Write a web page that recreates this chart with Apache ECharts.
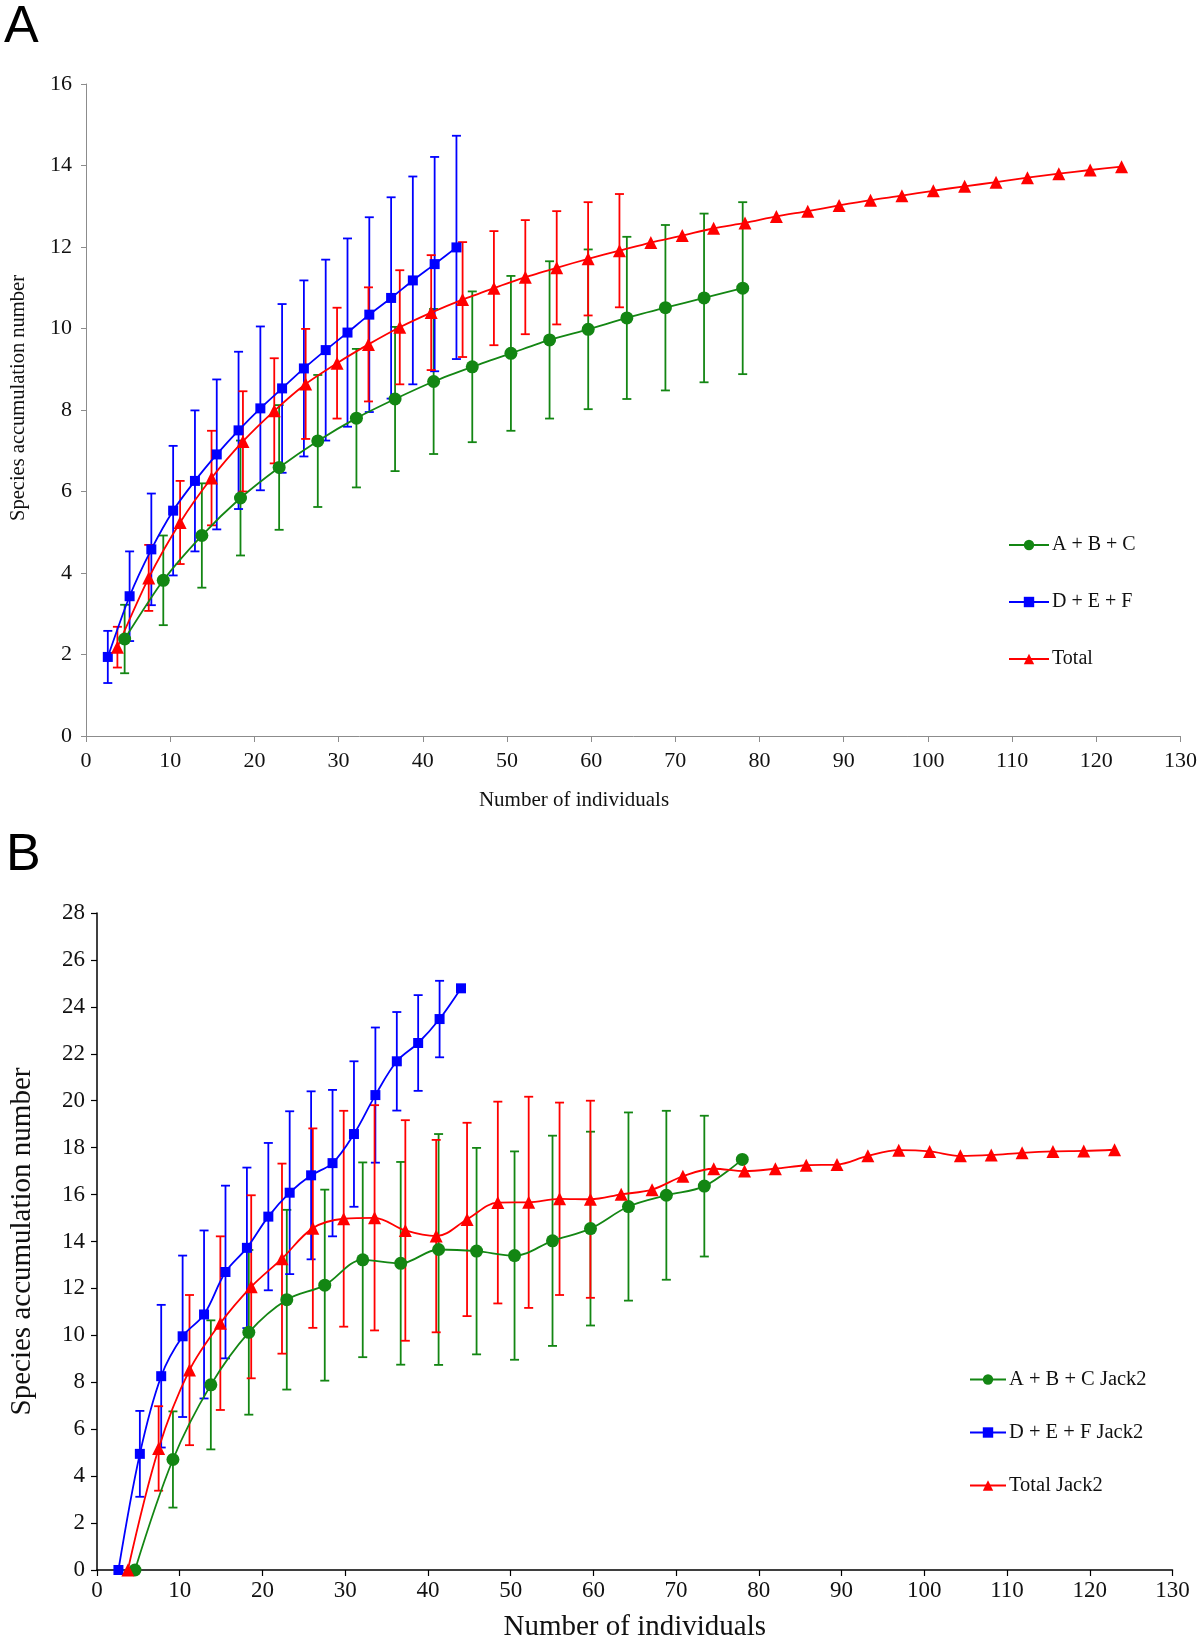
<!DOCTYPE html>
<html>
<head>
<meta charset="utf-8">
<script src="https://cdn.jsdelivr.net/npm/echarts@6/dist/echarts.min.js"></script>
<style>
html,body{margin:0;padding:0;background:#fff;}
#chart{width:1200px;height:1645px;}
</style>
</head>
<body>
<div id="chart"></div>
<script>
// ---------- data ----------
// sample sizes (number of individuals) for each rarefaction step
const xABC = [4.59, 9.18, 13.76, 18.35, 22.94, 27.53, 32.12, 36.71, 41.29, 45.88, 50.47, 55.06, 59.65, 64.24, 68.82, 73.41, 78.0];
const xDEF = [2.59, 5.18, 7.76, 10.35, 12.94, 15.53, 18.12, 20.71, 23.29, 25.88, 28.47, 31.06, 33.65, 36.24, 38.82, 41.41, 44.0];
const xTOT = [3.73, 7.45, 11.18, 14.91, 18.64, 22.36, 26.09, 29.82, 33.55, 37.27, 41.0, 44.73, 48.45, 52.18, 55.91, 59.64, 63.36, 67.09, 70.82, 74.55, 78.27, 82.0, 85.73, 89.45, 93.18, 96.91, 100.64, 104.36, 108.09, 111.82, 115.55, 119.27, 123.0];

// Panel A : observed species accumulation (mean, SD)
const aABC   = [2.38, 3.82, 4.92, 5.84, 6.59, 7.24, 7.80, 8.27, 8.70, 9.06, 9.39, 9.72, 9.98, 10.26, 10.51, 10.75, 10.99];
const aABCsd = [0.84, 1.10, 1.28, 1.41, 1.53, 1.62, 1.70, 1.77, 1.78, 1.85, 1.90, 1.93, 1.96, 1.99, 2.03, 2.07, 2.11];
const aDEF   = [1.94, 3.43, 4.58, 5.53, 6.26, 6.91, 7.50, 8.04, 8.53, 9.02, 9.47, 9.90, 10.34, 10.75, 11.18, 11.58, 11.99];
const aDEFsd = [0.64, 1.10, 1.37, 1.59, 1.73, 1.84, 1.93, 2.01, 2.07, 2.16, 2.22, 2.31, 2.39, 2.47, 2.55, 2.63, 2.74];
const aTOT   = [2.18, 3.88, 5.24, 6.33, 7.23, 7.98, 8.64, 9.15, 9.61, 10.03, 10.39, 10.71, 10.99, 11.26, 11.49, 11.71, 11.91, 12.11, 12.28, 12.46, 12.59, 12.75, 12.88, 13.02, 13.15, 13.26, 13.38, 13.49, 13.59, 13.70, 13.80, 13.89, 13.97];
const aTOTsd = [0.50, 0.81, 1.02, 1.16, 1.23, 1.29, 1.35, 1.36, 1.40, 1.40, 1.41, 1.41, 1.40, 1.40, 1.39, 1.39, 1.39, null, null, null, null, null, null, null, null, null, null, null, null, null, null, null, null];

// Panel B : Jack2 estimator (mean, SD)
const bABC   = [0, 4.71, 7.89, 10.13, 11.52, 12.14, 13.22, 13.07, 13.66, 13.59, 13.40, 14.03, 14.55, 15.49, 15.97, 16.36, 17.50];
const bABCsd = [null, 2.05, 2.75, 3.51, 3.83, 4.07, 4.15, 4.32, 4.92, 4.40, 4.44, 4.48, 4.13, 4.01, 3.60, 3.00, null];
const bDEF   = [0, 4.95, 8.26, 9.96, 10.89, 12.70, 13.73, 15.06, 16.08, 16.82, 17.34, 18.58, 20.24, 21.68, 22.46, 23.48, 24.79];
const bDEFsd = [null, 1.83, 3.04, 3.44, 3.58, 3.68, 3.42, 3.14, 3.47, 3.58, 3.12, 3.10, 2.88, 2.10, 2.04, 1.63, null];
const bTOT   = [0, 5.18, 8.52, 10.52, 12.07, 13.27, 14.57, 14.97, 15.01, 14.47, 14.23, 14.94, 15.66, 15.67, 15.82, 15.80, 16.01, 16.21, 16.78, 17.10, 17.00, 17.10, 17.25, 17.28, 17.65, 17.89, 17.84, 17.65, 17.69, 17.78, 17.84, 17.86, 17.91];
const bTOTsd = [null, 1.80, 3.20, 3.70, 3.90, 4.05, 4.25, 4.60, 4.80, 4.70, 4.10, 4.12, 4.30, 4.50, 4.10, 4.20, null, null, null, null, null, null, null, null, null, null, null, null, null, null, null, null, null];

const namesA = ['A + B + C', 'D + E + F', 'Total'];
const namesB = ['A + B + C Jack2', 'D + E + F Jack2', 'Total Jack2'];
const xTitle = 'Number of individuals';
const yTitle = 'Species accumulation number';
const xTicksMax = 130;

// ---------- styles ----------
const GREEN = '#138613', BLUE = '#0000ff', RED = '#ff0000';
const SERIF = 'Liberation Serif, Times New Roman, serif';

function pairs(xs, ys) { return xs.map((x, i) => [x, ys[i]]); }

function lineSeries(name, xs, ys, color, symbol, size, gi, smooth) {
  return {
    type: 'line', name: name, xAxisIndex: gi, yAxisIndex: gi,
    data: pairs(xs, ys), smooth: smooth,
    symbol: symbol, symbolSize: size, showSymbol: true,
    lineStyle: { color: color, width: 1.8 },
    itemStyle: { color: color },
    z: 5, animation: false
  };
}

function errSeries(xs, ys, sds, color, gi) {
  const data = [];
  xs.forEach((x, i) => { if (sds[i] != null) data.push([x, ys[i] - sds[i], ys[i] + sds[i]]); });
  return {
    type: 'custom', xAxisIndex: gi, yAxisIndex: gi, silent: true, z: 3, animation: false,
    encode: { x: 0, y: [1, 2] },
    data: data,
    renderItem: function (params, api) {
      const lo = api.coord([api.value(0), api.value(1)]);
      const hi = api.coord([api.value(0), api.value(2)]);
      const w = 4.5;
      const st = { stroke: color, lineWidth: 1.8 };
      return {
        type: 'group', children: [
          { type: 'line', shape: { x1: lo[0], y1: lo[1], x2: hi[0], y2: hi[1] }, style: st },
          { type: 'line', shape: { x1: lo[0] - w, y1: lo[1], x2: lo[0] + w, y2: lo[1] }, style: st },
          { type: 'line', shape: { x1: hi[0] - w, y1: hi[1], x2: hi[0] + w, y2: hi[1] }, style: st }
        ]
      };
    }
  };
}

const chart = echarts.init(document.getElementById('chart'), null, { renderer: 'canvas' });

const option = {
  backgroundColor: '#fff',
  animation: false,
  graphic: [
    { type: 'text', left: 4, top: 2, style: { text: 'A', font: '52px "Liberation Sans", Arial, sans-serif', fill: '#000' } },
    { type: 'text', left: 6, top: 830, style: { text: 'B', font: '52px "Liberation Sans", Arial, sans-serif', fill: '#000' } },
    // panel A axis titles (placed off-centre as in the original)
    { type: 'text', x: 574, y: 800, style: { text: xTitle, font: '21px ' + SERIF, fill: '#111', textAlign: 'center', textVerticalAlign: 'middle' } },
    { type: 'text', x: 19, y: 398, rotation: Math.PI / 2, style: { text: yTitle, font: '20.5px ' + SERIF, fill: '#111', textAlign: 'center', textVerticalAlign: 'middle' } }
  ],
  grid: [
    { left: 86, right: 18, top: 84, height: 652, containLabel: false },
    { left: 94, right: 27.5, top: 913, height: 657, containLabel: false }
  ],
  xAxis: [
    {
      gridIndex: 0, type: 'value', min: 0, max: xTicksMax, interval: 10,
      axisLine: { show: true, lineStyle: { color: '#8c8c8c', width: 1 } },
      axisTick: { show: true, length: 6, lineStyle: { color: '#8c8c8c' } },
      axisLabel: { fontFamily: SERIF, fontSize: 22, color: '#111', margin: 14 },
      splitLine: { show: false }
    },
    {
      gridIndex: 1, type: 'value', min: 0, max: xTicksMax, interval: 10,
      name: xTitle, nameLocation: 'middle', nameGap: 43,
      nameTextStyle: { fontFamily: SERIF, fontSize: 29, color: '#111' },
      axisLine: { show: true, lineStyle: { color: '#000', width: 1.5 } },
      axisTick: { show: true, length: 6, lineStyle: { color: '#000', width: 1.2 } },
      axisLabel: { fontFamily: SERIF, fontSize: 23, color: '#111', margin: 9 },
      splitLine: { show: false }
    }
  ],
  yAxis: [
    {
      gridIndex: 0, type: 'value', min: 0, max: 16, interval: 2,
      axisLine: { show: true, lineStyle: { color: '#8c8c8c', width: 1 } },
      axisTick: { show: true, length: 5, lineStyle: { color: '#8c8c8c' } },
      axisLabel: { fontFamily: SERIF, fontSize: 22, color: '#111', margin: 14 },
      splitLine: { show: false }
    },
    {
      gridIndex: 1, type: 'value', min: 0, max: 28, interval: 2,
      name: yTitle, nameLocation: 'middle', nameGap: 60,
      nameTextStyle: { fontFamily: SERIF, fontSize: 29, color: '#111' },
      axisLine: { show: true, lineStyle: { color: '#000', width: 1.5 } },
      axisTick: { show: true, length: 6, lineStyle: { color: '#000', width: 1.2 } },
      axisLabel: { fontFamily: SERIF, fontSize: 23, color: '#111', margin: 12 },
      splitLine: { show: false }
    }
  ],
  legend: [
    {
      data: namesA, orient: 'vertical', left: 1003, top: 530, itemGap: 37,
      itemWidth: 40, itemHeight: 13,
      textStyle: { fontFamily: SERIF, fontSize: 20, color: '#111', padding: [0, 0, 0, -2] }
    },
    {
      data: namesB, orient: 'vertical', left: 964, top: 1364, itemGap: 32,
      itemWidth: 36, itemHeight: 13,
      textStyle: { fontFamily: SERIF, fontSize: 20.5, color: '#111', padding: [0, 0, 0, -2] }
    }
  ],
  series: [
    errSeries(xABC, aABC, aABCsd, GREEN, 0),
    errSeries(xDEF, aDEF, aDEFsd, BLUE, 0),
    errSeries(xTOT, aTOT, aTOTsd, RED, 0),
    lineSeries(namesA[0], xABC, aABC, GREEN, 'circle', 13, 0, 0.25),
    lineSeries(namesA[1], xDEF, aDEF, BLUE, 'rect', 10, 0, 0.25),
    lineSeries(namesA[2], xTOT, aTOT, RED, 'triangle', 13, 0, 0.25),

    errSeries(xABC, bABC, bABCsd, GREEN, 1),
    errSeries(xDEF, bDEF, bDEFsd, BLUE, 1),
    errSeries(xTOT, bTOT, bTOTsd, RED, 1),
    lineSeries(namesB[0], xABC, bABC, GREEN, 'circle', 13, 1, 0.35),
    lineSeries(namesB[1], xDEF, bDEF, BLUE, 'rect', 10, 1, 0.35),
    lineSeries(namesB[2], xTOT, bTOT, RED, 'triangle', 13, 1, 0.35)
  ]
};
chart.setOption(option);
</script>
</body>
</html>
